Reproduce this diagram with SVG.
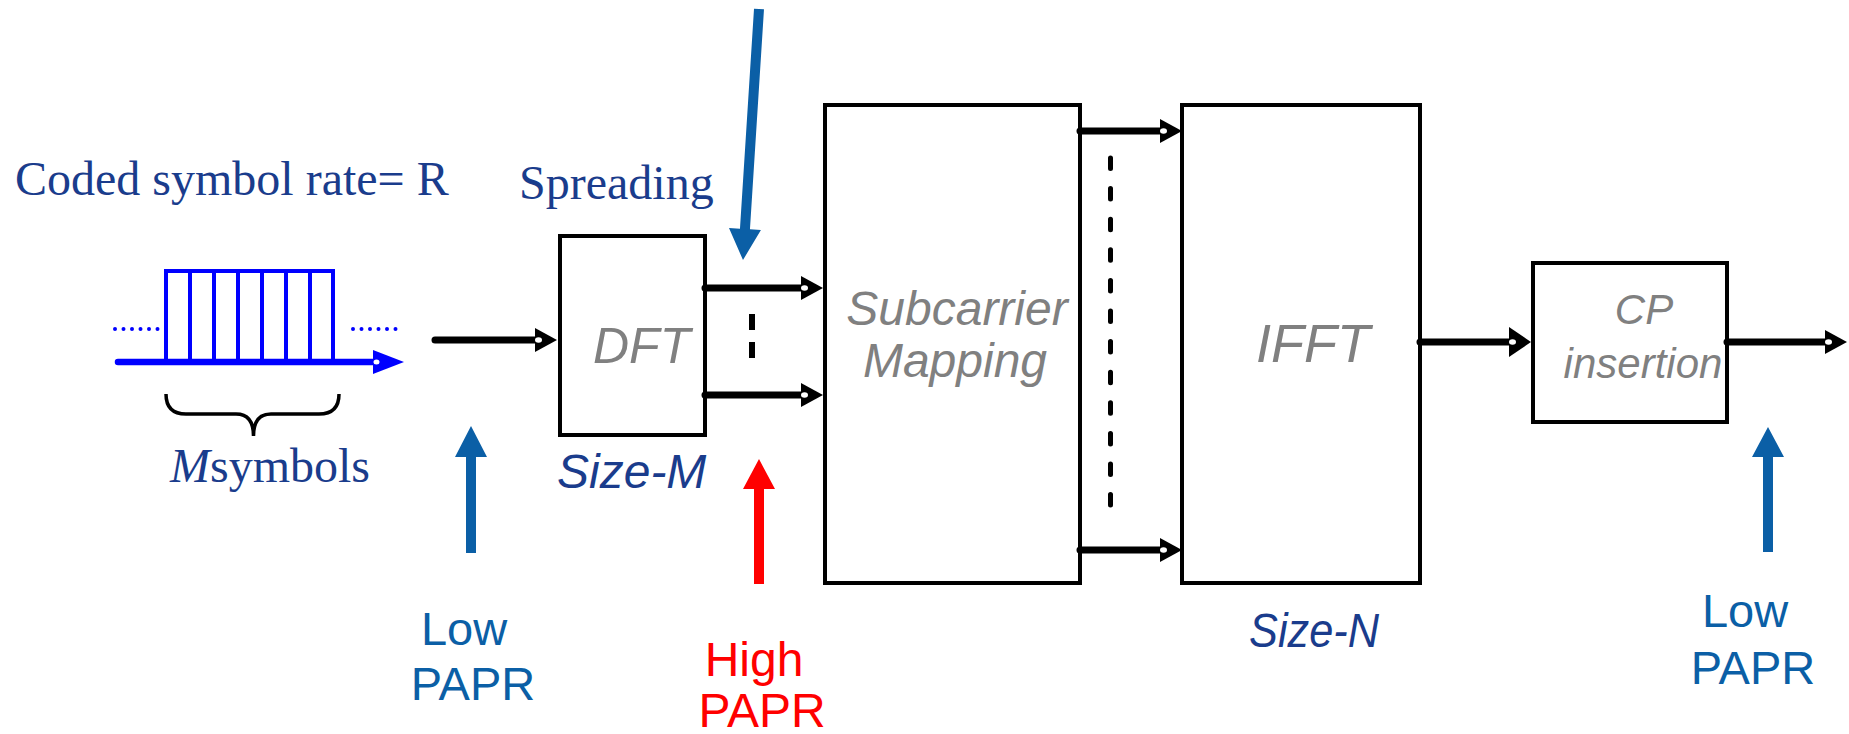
<svg xmlns="http://www.w3.org/2000/svg" width="1849" height="734" viewBox="0 0 1849 734">
<style>
.box{fill:#fff;stroke:#000;stroke-width:4}
.conn{stroke:#000;stroke-width:7;fill:none;stroke-linecap:round}
.serif{font-family:"Liberation Serif","Times New Roman",serif;font-size:48px;fill:#1a3c8c}
.sans{font-family:"Liberation Sans",Arial,sans-serif}
.grey{fill:#808080;font-style:italic}
.navy{fill:#1a3c8c;font-style:italic;font-size:48px}
.lblue{fill:#0b5fa6;font-size:47px}
.barrow{fill:#0b5fa6}
</style>
<defs>
<marker id="ah" markerUnits="userSpaceOnUse" markerWidth="24" markerHeight="26" refX="0" refY="12" orient="auto" overflow="visible">
<polygon points="0,0 22,12 0,24" fill="#000"/>
<ellipse cx="3.5" cy="12" rx="3.5" ry="2.8" fill="#fff"/>
</marker>
<marker id="ahl" markerUnits="userSpaceOnUse" markerWidth="24" markerHeight="32" refX="0" refY="15" orient="auto" overflow="visible">
<polygon points="0,0 22,15 0,30" fill="#000"/>
<ellipse cx="3.5" cy="15" rx="3.5" ry="2.8" fill="#fff"/>
</marker>
<marker id="ahb" markerUnits="userSpaceOnUse" markerWidth="34" markerHeight="26" refX="0" refY="12" orient="auto" overflow="visible">
<polygon points="0,0 31,12 0,24" fill="#0000ff"/>
<ellipse cx="3.5" cy="12" rx="3" ry="2.5" fill="#fff"/>
</marker>
</defs>

<g id="title">
<text class="serif" x="15" y="195">Coded symbol rate= R</text>
</g>

<g id="signal">
<polyline points="166,362 166,271 333,271 333,362" fill="none" stroke="#0000ff" stroke-width="4"/>
<g stroke="#0000ff" stroke-width="4">
<line x1="190" y1="271" x2="190" y2="362"/>
<line x1="214" y1="271" x2="214" y2="362"/>
<line x1="238" y1="271" x2="238" y2="362"/>
<line x1="262" y1="271" x2="262" y2="362"/>
<line x1="286" y1="271" x2="286" y2="362"/>
<line x1="310" y1="271" x2="310" y2="362"/>
</g>
<line x1="115" y1="329" x2="158" y2="329" stroke="#0000ff" stroke-width="4" stroke-linecap="round" stroke-dasharray="0 8.5"/>
<line x1="353" y1="329" x2="396" y2="329" stroke="#0000ff" stroke-width="4" stroke-linecap="round" stroke-dasharray="0 8.5"/>
<line x1="118" y1="362" x2="373" y2="362" stroke="#0000ff" stroke-width="6.5" stroke-linecap="round" marker-end="url(#ahb)"/>
<path d="M166,394 Q166,414 186,414 L236,414 Q253.5,414 253.5,436 Q253.5,414 271,414 L319,414 Q339,414 339,394" fill="none" stroke="#000" stroke-width="3.5"/>
<text class="serif" x="170" y="482"><tspan font-style="italic">M</tspan>symbols</text>
</g>

<g id="dft">
<rect class="box" x="560" y="236" width="145" height="199"/>
<text class="sans grey" x="593" y="363" font-size="50">DFT</text>
<text class="serif" x="519" y="199">Spreading</text>
<text class="sans navy" x="557" y="488">Size-M</text>
</g>

<g id="subcarrier">
<rect class="box" x="825" y="105" width="255" height="478"/>
<text class="sans grey" x="957" y="325" font-size="48" text-anchor="middle">Subcarrier</text>
<text class="sans grey" x="955" y="377" font-size="48" text-anchor="middle">Mapping</text>
</g>

<g id="ifft">
<rect class="box" x="1182" y="105" width="238" height="478"/>
<text class="sans grey" x="1256" y="362" font-size="54">IFFT</text>
<text class="sans navy" x="1249" y="647" textLength="130" lengthAdjust="spacingAndGlyphs">Size-N</text>
</g>

<g id="cp">
<rect class="box" x="1533" y="263" width="194" height="159"/>
<text class="sans grey" x="1644" y="324" font-size="42" text-anchor="middle">CP</text>
<text class="sans grey" x="1643" y="378" font-size="42" text-anchor="middle">insertion</text>
</g>

<g id="connectors">
<line class="conn" x1="435" y1="340" x2="535" y2="340" marker-end="url(#ah)"/>
<line class="conn" x1="705" y1="288" x2="801" y2="288" marker-end="url(#ah)"/>
<line class="conn" x1="705" y1="395" x2="801" y2="395" marker-end="url(#ah)"/>
<line x1="752" y1="314" x2="752" y2="360" stroke="#000" stroke-width="6" stroke-dasharray="16 12"/>
<line class="conn" x1="1080" y1="131" x2="1160" y2="131" marker-end="url(#ah)"/>
<line class="conn" x1="1080" y1="550" x2="1160" y2="550" marker-end="url(#ah)"/>
<line x1="1110.5" y1="158" x2="1110.5" y2="524" stroke="#000" stroke-width="5" stroke-linecap="round" stroke-dasharray="10.5 20.1"/>
<line class="conn" x1="1420" y1="342" x2="1509" y2="342" stroke-width="8" marker-end="url(#ahl)"/>
<line class="conn" x1="1727" y1="342" x2="1825" y2="342" stroke-width="8" marker-end="url(#ah)"/>
</g>

<g id="spread-arrow">
<polygon class="barrow" transform="translate(759,9) rotate(3.65)" points="-5,0 5,0 5,220.5 16,220.5 0,251.5 -16,220.5 -5,220.5"/>
</g>

<g id="low-papr-left">
<polygon class="barrow" points="466,553 476,553 476,457 487,457 471,426 455,457 466,457"/>
<text class="sans lblue" x="464" y="645" text-anchor="middle">Low</text>
<text class="sans lblue" x="473" y="700" text-anchor="middle">PAPR</text>
</g>

<g id="high-papr">
<polygon fill="#ff0000" points="754,584 764,584 764,489 775,489 759,459 743,489 754,489"/>
<text class="sans" fill="#ff0000" font-size="48" x="754" y="676" text-anchor="middle">High</text>
<text class="sans" fill="#ff0000" font-size="48" x="762" y="727" text-anchor="middle">PAPR</text>
</g>

<g id="low-papr-right">
<polygon class="barrow" points="1763,552 1773,552 1773,457 1784,457 1768,427 1752,457 1763,457"/>
<text class="sans lblue" x="1745" y="627" text-anchor="middle">Low</text>
<text class="sans lblue" x="1753" y="684" text-anchor="middle">PAPR</text>
</g>
</svg>
